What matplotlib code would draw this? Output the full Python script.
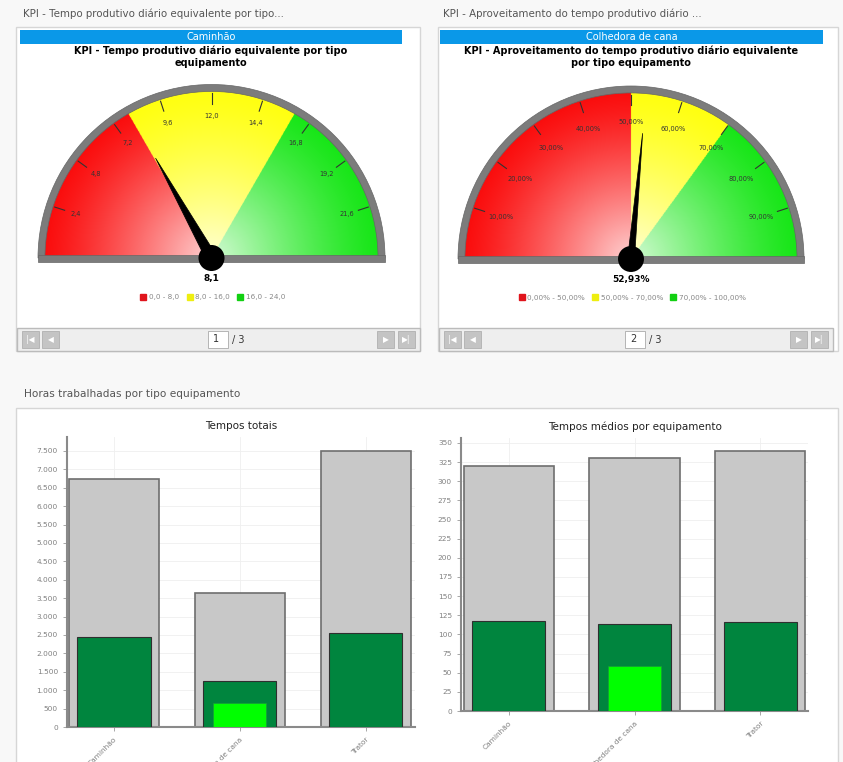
import numpy as np
import matplotlib
matplotlib.use('Agg')
import matplotlib.pyplot as plt
from matplotlib.patches import Rectangle, Wedge, Circle, Polygon
from matplotlib.lines import Line2D
from matplotlib.ticker import FuncFormatter, MultipleLocator

W, H = 843, 762

# gauge data
g1_bounds = [0.0, 8.0, 16.0, 24.0]
g1_ticks = [2.4, 4.8, 7.2, 9.6, 12.0, 14.4, 16.8, 19.2, 21.6]
g1_value = 8.1
g2_bounds = [0.0, 50.0, 70.0, 100.0]
g2_ticks = [10, 20, 30, 40, 50, 60, 70, 80, 90]
g2_value = 52.93

# bar data
categories = ['Caminhão', 'Colhedora de cana', 'Trator']
totais_total = [6730, 3650, 7500]
totais_prod = [2450, 1250, 2550]
totais_extra = [0, 640, 0]
medios_total = [320, 331, 340]
medios_prod = [117, 114, 116]
medios_extra = [0, 59, 0]

zone_rgb = [(0.98, 0.04, 0.04), (1.0, 1.0, 0.05), (0.08, 0.9, 0.08)]
zone_leg = ['#e0141c', '#eeee10', '#12d012']

fig = plt.figure(figsize=(W / 100, H / 100), dpi=100)
fig.patch.set_facecolor('#f8f8f8')


def px_axes(x0, y0, x1, y1, z=1):
    return fig.add_axes([x0 / W, 1 - y1 / H, (x1 - x0) / W, (y1 - y0) / H], zorder=z)


bg = px_axes(0, 0, W, H, z=0)
bg.set_xlim(0, W)
bg.set_ylim(H, 0)
bg.axis('off')


def box(x0, y0, x1, y1, **kw):
    bg.add_patch(Rectangle((x0, y0), x1 - x0, y1 - y0, **kw))


# panels
box(16, 27, 420, 351, facecolor='white', edgecolor='#d6d6d6', lw=1)
box(438, 27, 838, 351, facecolor='white', edgecolor='#d6d6d6', lw=1)
box(16, 408, 838, 775, facecolor='white', edgecolor='#d6d6d6', lw=1)

bg.text(23, 14, 'KPI - Tempo produtivo diário equivalente por tipo...', fontsize=7.4,
        color='#555555', va='center', ha='left')
bg.text(443, 14, 'KPI - Aproveitamento do tempo produtivo diário ...', fontsize=7.4,
        color='#555555', va='center', ha='left')
bg.text(24, 394, 'Horas trabalhadas por tipo equipamento', fontsize=7.6,
        color='#555555', va='center', ha='left')

# blue header bars and gauge titles
for (x0, x1, cx, name, title) in [
        (20, 402, 211, 'Caminhão', 'KPI - Tempo produtivo diário equivalente por tipo\nequipamento'),
        (440, 823, 631, 'Colhedora de cana', 'KPI - Aproveitamento do tempo produtivo diário equivalente\npor tipo equipamento')]:
    box(x0, 30, x1, 44, facecolor='#0a98e8', edgecolor='none')
    bg.text((x0 + x1) / 2, 37.5, name, color='white', fontsize=7, ha='center', va='center')
    bg.text(cx, 46, title, fontsize=7, fontweight='bold', ha='center', va='top', linespacing=1.15)


# navigation bars
def nav(x0, x1, page):
    box(x0, 328, x1, 351, facecolor='#eeeeee', edgecolor='#bbbbbb', lw=1)
    for bx, sym in [(x0 + 5, '|◀'), (x0 + 25, '◀'), (x1 - 43, '▶'), (x1 - 22, '▶|')]:
        box(bx, 331, bx + 17, 348, facecolor='#c4c4c4', edgecolor='#b0b0b0', lw=0.6)
        bg.text(bx + 8.5, 339.5, sym, fontsize=5.5, color='white', ha='center', va='center')
    mid = (x0 + x1) / 2
    box(mid - 11, 331, mid + 9, 348, facecolor='white', edgecolor='#aaaaaa', lw=0.6)
    bg.text(mid - 6, 339.5, str(page), fontsize=7, color='#333333', ha='left', va='center')
    bg.text(mid + 13, 339.5, '/ 3', fontsize=7, color='#333333', ha='left', va='center')


nav(17, 420, 1)
nav(439, 833, 2)


def draw_gauge(cx, cy, R, bounds, ticks, value, fmt, lab_r, needle_len, needle_w):
    ax = px_axes(cx - 1.1 * R, cy - 1.1 * R, cx + 1.1 * R, cy + 0.35 * R, z=2)
    ax.set_xlim(-1.1, 1.1)
    ax.set_ylim(-0.35, 1.1)
    ax.axis('off')
    vmin, vmax = bounds[0], bounds[-1]

    xs = np.linspace(-1, 1, 600)
    ys = np.linspace(0, 1, 300)
    X, Y = np.meshgrid(xs, ys)
    theta = np.degrees(np.arctan2(Y, X))
    v = vmin + (180 - theta) / 180 * (vmax - vmin)
    idx = np.clip(np.searchsorted(bounds, v, side='right') - 1, 0, len(zone_rgb) - 1)
    base = np.array(zone_rgb)[idx]
    r = np.hypot(X, Y)
    p = (0.82 * np.clip(1 - r, 0, 1) ** 1.3)[..., None]
    img = base * (1 - p) + p
    im = ax.imshow(img, extent=(-1, 1, 0, 1), origin='lower', zorder=2, aspect='auto')
    clip = Wedge((0, 0), 0.97, 0, 180, transform=ax.transData)
    im.set_clip_path(clip)

    ax.add_patch(Wedge((0, 0), 1.0, 0, 180, width=0.04, facecolor='#7c7c7c',
                       edgecolor='#666666', lw=0.5, zorder=3))
    ax.add_patch(Rectangle((-1.0, -0.022), 2.0, 0.042, facecolor='#7c7c7c',
                           edgecolor='#666666', lw=0.5, zorder=3))

    for t in ticks:
        a = np.pi * (1 - (t - vmin) / (vmax - vmin))
        ax.plot([0.89 * np.cos(a), 0.95 * np.cos(a)], [0.89 * np.sin(a), 0.95 * np.sin(a)],
                color='#333333', lw=0.8, zorder=4)
        ax.text(lab_r * np.cos(a), lab_r * np.sin(a), fmt(t), fontsize=4.8, color='#333333',
                ha='center', va='center', zorder=4)

    a = np.pi * (1 - (value - vmin) / (vmax - vmin))
    tip = (needle_len * np.cos(a), needle_len * np.sin(a))
    perp = (-np.sin(a) * needle_w, np.cos(a) * needle_w)
    ax.add_patch(Polygon([tip, (perp[0], perp[1]), (-perp[0], -perp[1])], closed=True,
                         facecolor='black', edgecolor='black', lw=0.5, zorder=5))
    ax.add_patch(Circle((0, 0), 0.075, facecolor='black', zorder=6))
    ax.text(0, -0.12, fmt(value), fontsize=6.5, fontweight='bold', ha='center', va='center')

    handles = [Line2D([], [], marker='s', ls='', color=c, markersize=4.5) for c in zone_leg]
    labels = [f'{fmt(bounds[i])} - {fmt(bounds[i + 1])}' for i in range(len(bounds) - 1)]
    ax.legend(handles, labels, ncol=3, loc='center', bbox_to_anchor=(0, -0.225),
              bbox_transform=ax.transData, frameon=False, fontsize=5.2, labelcolor='#888888',
              handletextpad=0.0, columnspacing=0.6, handlelength=1.6)


draw_gauge(211.5, 258, 173.5, g1_bounds, g1_ticks, g1_value,
           lambda v: f'{v:.1f}'.replace('.', ','), 0.82, 0.66, 0.032)
draw_gauge(631, 259, 173, g2_bounds, g2_ticks, g2_value,
           lambda v: f'{v:.2f}%'.replace('.', ','), 0.79, 0.73, 0.02)


def bar_chart(ax, total, prod, extra, title, ymax, step, xlim):
    x = np.arange(len(categories))
    ax.bar(x, total, width=0.72, color='#c8c8c8', edgecolor='#6e6e6e', lw=1.2, zorder=2)
    ax.bar(x, prod, width=0.58, color='#00853e', edgecolor='#2f2f2f', lw=0.8, zorder=3)
    ax.bar(x, extra, width=0.42, color='#00ff00', edgecolor='#169a3a', lw=0.5, zorder=4)
    ax.set_xlim(*xlim)
    ax.set_ylim(0, ymax)
    ax.yaxis.set_major_locator(MultipleLocator(step))
    ax.yaxis.set_major_formatter(FuncFormatter(lambda v, p: f'{int(v):,}'.replace(',', '.')))
    ax.set_xticks(x)
    ax.set_xticklabels(categories, rotation=45, ha='right', rotation_mode='anchor')
    ax.tick_params(labelsize=5.3, labelcolor='#808080', color='#999999', length=3, width=0.6)
    ax.grid(True, color='#efefef', lw=0.6, zorder=0)
    ax.set_axisbelow(True)
    for s in ['top', 'right']:
        ax.spines[s].set_visible(False)
    for s in ['left', 'bottom']:
        ax.spines[s].set_color('#8a8a8a')
        ax.spines[s].set_linewidth(1.5)
    ax.set_facecolor('white')
    ax.set_title(title, fontsize=7.5, color='#222222', pad=6)


ax1 = px_axes(67, 437, 415, 727, z=2)
bar_chart(ax1, totais_total, totais_prod, totais_extra, 'Tempos totais', 7880, 500, (-0.373, 2.39))
ax2 = px_axes(461, 438, 808, 711, z=2)
bar_chart(ax2, medios_total, medios_prod, medios_extra, 'Tempos médios por equipamento',
          356.5, 25, (-0.38, 2.38))

fig.savefig('out.png', dpi=100, facecolor=fig.get_facecolor())
